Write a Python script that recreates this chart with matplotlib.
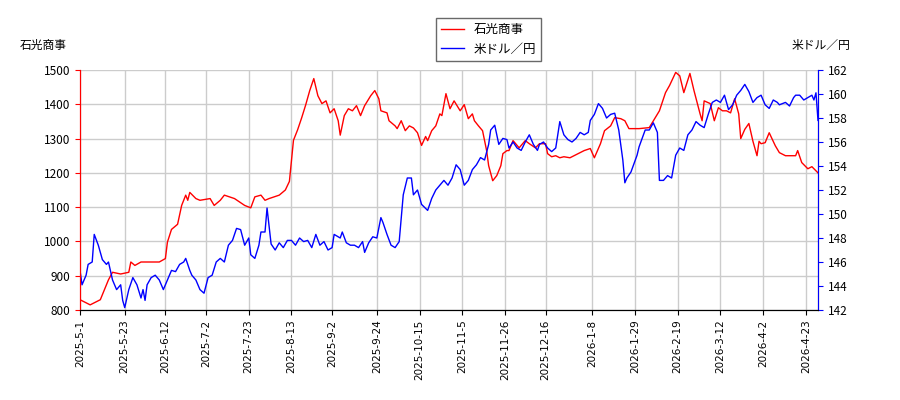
import matplotlib
matplotlib.use("Agg")
import matplotlib.pyplot as plt
import numpy as np
import datetime as dt

plt.rcParams['font.family'] = ['Noto Sans CJK JP', 'DejaVu Sans']

start = dt.date(2025, 5, 1)

# 石光商事 (day offset from 2025-5-1, price)
stock_days = [0,5,10,14,16,20,24,25,27,30,34,39,42,43,45,48,50,52,53,54,57,59,64,66,69,71,76,81,84,86,89,91,93,98,101,103,
              105,107,109,111,113,115,117,119,121,123,125,127,128,130,132,134,136,138,140,143,145,147,148,151,152,155,156,158,
              160,162,164,166,168,170,171,173,175,177,178,180,182,184,187,189,191,193,194,196,198,200,201,203,205,207,208,210,
              211,213,216,219,221,224,226,229,230,232,234,236,238,241,243,246,248,251,253,256,258,261,263,266,268,270,275,280,
              285,288,290,293,295,297,300,302,305,306,307,310,312,314,316,318,320,322,324,325,327,329,331,333,334,335,337,339,
              342,344,347,349,352,353,355,358,360,361,363]
stock_vals = [830,815,830,888,910,905,910,940,930,940,940,940,950,998,1035,1050,1105,1135,1120,1143,1125,1120,1125,1105,1120,
              1135,1125,1105,1098,1130,1135,1120,1125,1135,1150,1175,1295,1325,1360,1398,1440,1475,1425,1402,1410,1375,1387,
              1352,1310,1367,1387,1381,1396,1367,1396,1425,1440,1416,1381,1375,1352,1337,1329,1352,1323,1337,1331,1317,1280,
              1306,1294,1323,1337,1372,1367,1431,1387,1410,1381,1399,1358,1372,1352,1337,1323,1265,1221,1177,1192,1221,1256,
              1265,1265,1294,1273,1294,1285,1273,1285,1285,1256,1247,1250,1244,1247,1244,1250,1259,1265,1271,1244,1285,1323,
              1337,1361,1358,1352,1329,1329,1332,1381,1434,1455,1493,1483,1434,1490,1440,1372,1352,1410,1402,1352,1390,1381,
              1381,1375,1416,1372,1300,1327,1344,1292,1250,1292,1285,1288,1317,1279,1259,1250,1250,1250,1265,1230,1212,1218,
              1212,1200]

# 米ドル／円
fx_days = [0,1,3,4,6,7,9,11,13,14,16,18,20,21,22,24,26,28,30,31,32,33,35,37,39,41,43,45,47,49,51,52,54,55,57,59,61,63,65,
           67,69,71,73,75,77,79,81,83,84,86,88,89,91,92,94,96,98,100,102,104,106,108,110,112,114,116,118,120,122,124,125,
           128,129,131,133,135,137,139,140,142,144,146,148,149,151,153,155,157,159,161,163,164,166,168,171,173,175,177,179,
           181,183,185,187,189,191,193,195,197,199,201,202,204,206,208,210,211,213,215,217,219,221,223,225,226,228,230,232,
           234,235,236,238,240,242,244,246,248,250,251,253,255,257,259,261,263,265,267,268,269,271,274,275,278,280,282,284,
           285,287,289,291,293,295,297,299,301,303,305,307,309,311,313,315,317,319,321,323,325,327,329,331,333,335,337,339,
           341,343,344,347,349,351,352,354,356,358,360,361,362,363]
fx_vals = [145.3,144.1,144.9,145.8,146.0,148.3,147.4,146.2,145.8,146.0,144.5,143.7,144.1,142.8,142.2,143.7,144.7,144.1,143.0,
           143.7,142.8,144.1,144.7,144.9,144.5,143.7,144.5,145.3,145.2,145.8,146.0,146.3,145.3,144.9,144.5,143.7,143.4,144.7,
           144.9,146.0,146.3,146.0,147.4,147.8,148.8,148.7,147.4,148.0,146.6,146.3,147.4,148.5,148.5,150.5,147.5,147.0,147.6,
           147.2,147.8,147.8,147.4,148.0,147.7,147.8,147.2,148.3,147.4,147.7,147.0,147.2,148.3,148.0,148.5,147.6,147.4,147.4,
           147.2,147.7,146.8,147.6,148.1,148.0,149.7,149.3,148.3,147.4,147.2,147.7,151.6,153.0,153.0,151.6,152.0,150.8,150.3,
           151.3,152.0,152.4,152.8,152.4,153.0,154.1,153.7,152.4,152.8,153.7,154.1,154.7,154.5,155.8,157.0,157.4,155.8,156.3,
           156.2,155.5,156.0,155.5,155.3,156.0,156.6,155.8,155.3,155.8,156.0,155.5,155.2,155.5,156.6,157.7,156.6,156.2,156.0,
           156.3,156.8,156.6,156.8,157.8,158.3,159.2,158.8,158.0,158.3,158.4,157.0,154.5,152.6,153.0,153.5,154.9,155.6,157.0,
           157.0,157.6,156.8,152.8,152.8,153.2,153.0,154.9,155.5,155.3,156.6,157.0,157.7,157.4,157.2,158.3,159.3,159.5,159.3,
           159.9,158.7,159.1,159.9,160.3,160.8,160.2,159.3,159.7,159.9,159.1,158.8,159.5,159.3,159.1,159.3,159.0,159.7,159.9,
           159.9,159.5,159.7,159.9,159.5,160.1,157.8]

stock_dates = [start + dt.timedelta(days=d) for d in stock_days]
fx_dates = [start + dt.timedelta(days=d) for d in fx_days]
tick_strs = ["2025-5-1", "2025-5-23", "2025-6-12", "2025-7-2", "2025-7-23", "2025-8-13", "2025-9-2", "2025-9-24",
             "2025-10-15", "2025-11-5", "2025-11-26", "2025-12-16", "2026-1-8", "2026-1-29", "2026-2-19",
             "2026-3-12", "2026-4-2", "2026-4-23"]
tick_dates = [dt.date(*map(int, s.split('-'))) for s in tick_strs]

fig = plt.figure(figsize=(9, 4), dpi=100)
ax = fig.add_axes([80 / 900, 90 / 400, 738 / 900, 240 / 400])
ax2 = ax.twinx()

l1, = ax.plot(stock_dates, stock_vals, color='red', lw=1, label='石光商事')
l2, = ax2.plot(fx_dates, fx_vals, color='blue', lw=1, label='米ドル／円')

ax.set_xlim(start, start + dt.timedelta(days=363))
ax.set_ylim(800, 1500)
ax2.set_ylim(142, 162)
ax.set_yticks(range(800, 1501, 100))
ax2.set_yticks(range(142, 163, 2))
ax.set_xticks(tick_dates)
ax.set_xticklabels(tick_strs, rotation=90, fontsize=7.5, family='DejaVu Sans')
ax.tick_params(axis='y', labelsize=8.5)
ax2.tick_params(axis='y', labelsize=8.5)
ax.grid(True, color='#cccccc', lw=1)
ax.set_axisbelow(True)

ax.spines['left'].set_color('red')
ax2.spines['left'].set_color('red')
ax.tick_params(axis='y', colors='red')
for lab in ax.get_yticklabels():
    lab.set_color('black')
ax2.spines['right'].set_color('blue')
ax2.tick_params(axis='y', colors='blue')
for lab in ax2.get_yticklabels():
    lab.set_color('black')
for s in ['top']:
    ax.spines[s].set_visible(False)
    ax2.spines[s].set_visible(False)

fig.text(20 / 900, 1 - 45 / 400, '石光商事', fontsize=8.5, va='center')
fig.text(850 / 900, 1 - 45 / 400, '米ドル／円', fontsize=8.5, va='center', ha='right')
fig.legend([l1, l2], ['石光商事', '米ドル／円'], loc='upper center', bbox_to_anchor=(0.543, 0.97),
           fontsize=9, frameon=True, fancybox=False, edgecolor='#444444', handlelength=1.8)

fig.savefig('out.png', dpi=100)
